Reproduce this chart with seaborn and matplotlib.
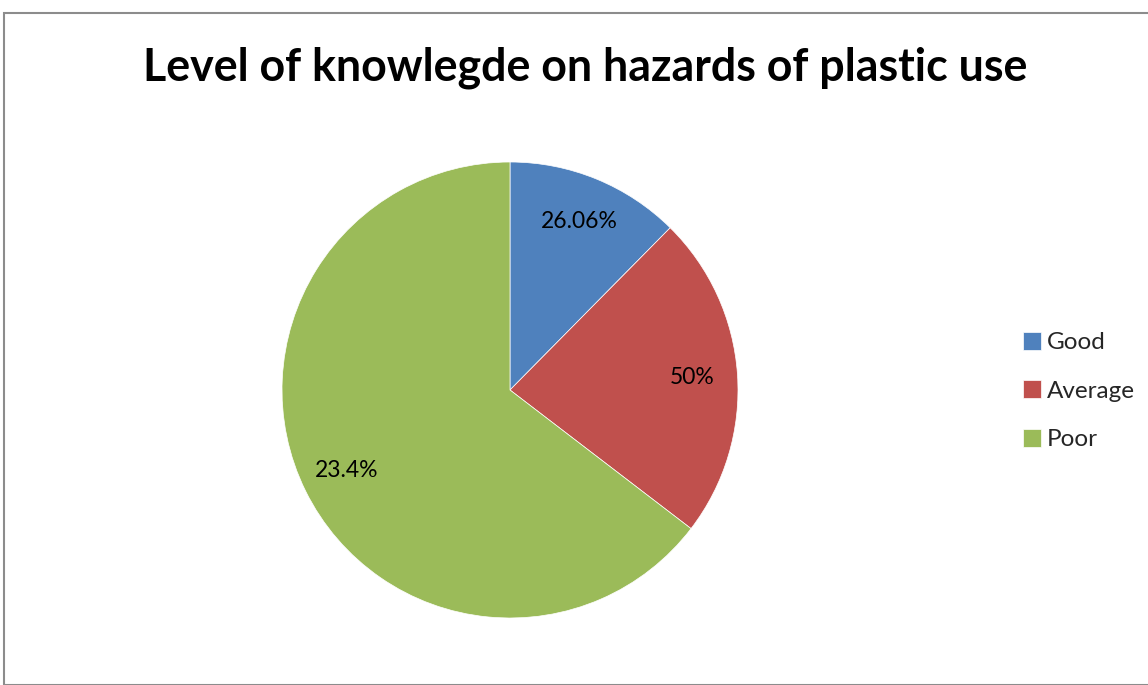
import matplotlib
matplotlib.use("Agg")
import matplotlib.pyplot as plt
from matplotlib.patches import Rectangle
import seaborn as sns

categories = ["Good", "Average", "Poor"]
slice_values = [12.4, 23.0, 64.6]
slice_labels = ["26.06%", "50%", "23.4%"]
colors = ["#4F81BD", "#C0504D", "#9BBB59"]
title = "Level of knowlegde on hazards of plastic use"

sns.set_theme(style="white")
plt.rcParams["font.family"] = ["Lato", "DejaVu Sans"]

W, H = 1148, 685
fig = plt.figure(figsize=(W / 100, H / 100), dpi=100)
fig.patch.set_facecolor("white")

# outer chart border
fig.patches.append(Rectangle((4 / W, 0.5 / H), (W + 10) / W, (H - 13.5) / H,
                             transform=fig.transFigure, fill=False,
                             edgecolor="#8c8c8c", linewidth=1.5))

cx, cy, r = 510, 390, 228
ax = fig.add_axes([(cx - r) / W, (H - cy - r) / H, 2 * r / W, 2 * r / H])
wedges, texts, autotexts = ax.pie(
    slice_values, colors=colors, startangle=90, counterclock=False,
    autopct="%1.1f%%", pctdistance=0.8,
    wedgeprops=dict(edgecolor="white", linewidth=0.5),
    textprops=dict(fontsize=16.5, color="black"))
for t, lab in zip(autotexts, slice_labels):
    t.set_text(lab)
ax.set_xlim(-1, 1)
ax.set_ylim(-1, 1)
ax.set_aspect("equal")
ax.axis("off")

fig.text(585 / W, 1 - 68 / H, title, ha="center", va="center",
         fontsize=32.2, fontweight="bold", color="black")

fig.legend(wedges, categories, loc="center left",
           bbox_to_anchor=(1013 / W, 1 - 391 / H), frameon=False,
           fontsize=17.5, handlelength=0.75, handleheight=0.75,
           handletextpad=0.25, labelspacing=1.12, borderaxespad=0)

fig.savefig("out.png", dpi=100, facecolor="white")
